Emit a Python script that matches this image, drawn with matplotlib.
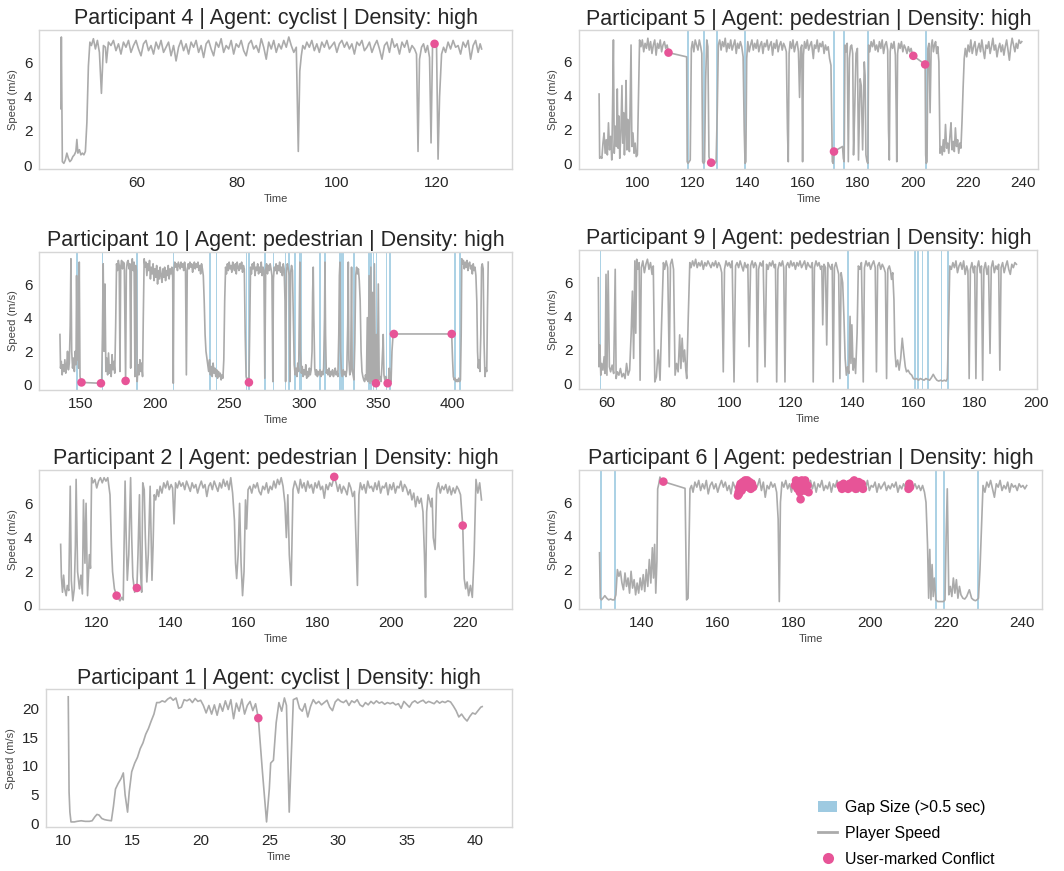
import numpy as np
import matplotlib
matplotlib.use("Agg")
import matplotlib.pyplot as plt
from matplotlib.patches import Patch
from matplotlib.lines import Line2D

plt.rcParams['font.family'] = ['Liberation Sans', 'DejaVu Sans']

# ---------------- Participant 4 (cyclist) ----------------
p4_time = [
    44.9, 45.0, 45.2, 45.5, 45.8, 46.1, 46.4, 46.7, 47.0, 47.3,
    47.6, 47.9, 48.1, 48.3, 48.6, 48.9, 49.2, 49.5, 49.8, 50.1,
    50.4, 50.7, 51.0, 51.4, 51.8, 52.2, 52.6, 53.0, 53.4, 53.8,
    54.0, 54.4, 54.9, 55.4, 55.9, 56.4, 56.9, 57.4, 57.9, 58.4,
    58.9, 59.4, 59.9, 60.4, 60.9, 61.4, 61.9, 62.4, 62.9, 63.4,
    63.9, 64.4, 64.9, 65.4, 65.9, 66.4, 66.9, 67.4, 67.9, 68.4,
    68.9, 69.4, 69.9, 70.4, 70.9, 71.4, 71.9, 72.4, 72.9, 73.4,
    73.9, 74.4, 74.9, 75.4, 75.9, 76.4, 76.9, 77.4, 77.9, 78.4,
    78.9, 79.4, 79.9, 80.4, 80.9, 81.4, 81.9, 82.4, 82.9, 83.4,
    83.9, 84.4, 84.9, 85.4, 85.9, 86.4, 86.9, 87.4, 87.9, 88.4,
    88.9, 89.4, 89.9, 90.4, 90.9, 91.4, 91.9, 92.3, 92.6, 92.9,
    93.2, 93.6, 94.0, 94.5, 95.0, 95.5, 96.0, 96.5, 97.0, 97.5,
    98.0, 98.5, 99.0, 99.5, 100.0, 100.5, 101.0, 101.5, 102.0, 102.5,
    103.0, 103.5, 104.0, 104.5, 105.0, 105.5, 106.0, 106.5, 107.0, 107.5,
    108.0, 108.5, 109.0, 109.5, 110.0, 110.5, 111.0, 111.5, 112.0, 112.5,
    113.0, 113.5, 114.0, 114.5, 115.0, 115.5, 115.9, 116.2, 116.5, 116.9,
    117.3, 117.7, 118.1, 118.5, 118.8, 119.1, 119.5, 119.9, 120.2, 120.5,
    120.9, 121.3, 121.7, 122.2, 122.7, 123.2, 123.7, 124.2, 124.7, 125.2,
    125.7, 126.2, 126.7, 127.2, 127.7, 128.2, 128.6, 128.9,
]
p4_speed = [
    3.3, 7.5, 0.2, 0.1, 0.3, 0.7, 0.4, 0.2, 0.3, 0.5,
    0.6, 0.8, 1.5, 0.7, 0.9, 0.6, 0.7, 0.6, 0.8, 2.5,
    5.8, 7.2, 7.0, 7.4, 6.8, 7.3, 6.6, 4.2, 7.0, 6.9,
    6.0, 7.2, 7.0, 7.3, 6.7, 7.1, 6.5, 7.2, 6.9, 7.3,
    6.6, 7.0, 7.3, 6.8, 6.4, 7.1, 7.3, 6.7, 7.0, 6.5,
    7.2, 6.8, 7.3, 6.6, 6.9, 7.2, 6.4, 7.0, 6.1, 6.9,
    7.3, 6.7, 7.1, 6.5, 7.2, 6.9, 7.3, 6.6, 7.0, 6.3,
    7.1, 7.3, 6.8, 6.4, 7.2, 6.9, 7.4, 6.6, 7.0, 6.8,
    7.3, 6.5, 7.1, 6.9, 7.3, 6.7, 6.4, 7.1, 7.3, 6.8,
    7.0, 6.6, 7.4, 6.9, 6.2, 7.2, 6.8, 7.3, 6.6, 7.1,
    6.8, 7.3, 6.9, 7.5, 7.0, 6.6, 6.9, 0.8, 5.5, 6.4,
    7.0, 6.8, 7.2, 6.9, 7.3, 6.7, 7.1, 6.6, 7.2, 6.9,
    7.3, 6.8, 7.0, 7.2, 6.6, 7.1, 7.3, 6.9, 7.2, 6.8,
    7.1, 6.5, 7.2, 7.0, 7.3, 6.7, 6.9, 7.2, 6.6, 7.0,
    7.3, 6.8, 6.2, 7.0, 7.2, 6.6, 7.4, 6.9, 7.1, 6.5,
    7.2, 6.9, 7.3, 6.6, 7.0, 6.8, 6.5, 0.8, 6.2, 6.9,
    7.1, 6.6, 7.0, 6.3, 1.3, 7.0, 7.1, 6.9, 0.35, 4.0,
    6.5, 6.9, 6.6, 7.2, 6.8, 7.3, 6.9, 7.0, 6.5, 7.2,
    6.9, 7.3, 6.2, 7.0, 7.3, 6.6, 7.1, 6.8,
]
p4_conf_time = [119.5]
p4_conf_speed = [7.1]
p4_gap_start = []
p4_gap_end = []

# ---------------- Participant 5 (pedestrian) ----------------
p5_time = [
    86.1, 86.3, 86.7, 87.1, 87.5, 87.9, 88.3, 88.7, 89.1, 89.5,
    89.9, 90.3, 90.7, 91.0, 91.3, 91.6, 92.0, 92.4, 92.7, 93.0,
    93.3, 93.6, 94.0, 94.4, 94.7, 95.0, 95.3, 95.6, 95.9, 96.2,
    96.5, 96.8, 97.1, 97.4, 97.7, 98.0, 98.4, 98.8, 99.2, 99.6,
    100.0, 100.4, 100.8, 101.3, 101.8, 102.3, 102.8, 103.3, 103.8, 104.3,
    104.8, 105.3, 105.8, 106.3, 106.8, 107.3, 107.8, 108.3, 108.8, 109.3,
    109.8, 110.3, 110.8, 111.3, 117.9, 118.1, 118.4, 118.8, 119.2, 119.6,
    120.0, 120.5, 121.0, 121.5, 122.0, 122.5, 123.0, 123.4, 123.7, 124.0,
    124.4, 124.8, 125.2, 125.6, 126.0, 126.4, 126.8, 127.4, 128.0, 128.6,
    129.0, 129.4, 129.9, 130.4, 130.9, 131.4, 131.9, 132.4, 132.9, 133.4,
    133.9, 134.4, 134.9, 135.4, 135.9, 136.4, 136.9, 137.4, 137.9, 138.4,
    138.8, 139.1, 139.4, 139.7, 140.1, 140.6, 141.1, 141.6, 142.1, 142.6,
    143.1, 143.6, 144.1, 144.6, 145.1, 145.6, 146.1, 146.6, 147.1, 147.6,
    148.1, 148.6, 149.1, 149.6, 150.1, 150.6, 151.1, 151.6, 152.1, 152.6,
    153.1, 153.6, 154.1, 154.5, 154.8, 155.1, 155.5, 156.0, 156.5, 157.0,
    157.5, 158.0, 158.5, 158.9, 159.3, 159.7, 160.0, 160.3, 160.7, 161.2,
    161.7, 162.2, 162.7, 163.2, 163.6, 163.9, 164.3, 164.8, 165.3, 165.8,
    166.3, 166.8, 167.3, 167.8, 168.3, 168.8, 169.3, 169.8, 170.3, 170.8,
    171.1, 171.4, 174.5, 174.8, 175.1, 175.4, 175.8, 176.2, 176.6, 177.0,
    177.4, 177.8, 178.2, 178.5, 178.9, 179.4, 179.9, 180.3, 180.6, 180.9,
    181.3, 181.8, 182.1, 182.4, 182.7, 183.0, 183.4, 183.7, 184.0, 184.4,
    184.9, 185.4, 185.9, 186.4, 186.9, 187.4, 187.9, 188.4, 188.9, 189.4,
    189.9, 190.4, 190.9, 191.2, 191.5, 191.8, 192.2, 192.7, 193.2, 193.7,
    194.0, 194.2, 194.5, 194.9, 195.4, 195.9, 196.4, 196.9, 197.4, 197.9,
    198.4, 198.9, 199.4, 199.8, 200.2, 204.5, 204.7, 204.9, 205.2, 205.5,
    205.9, 206.3, 206.7, 207.1, 207.5, 207.9, 208.3, 208.7, 209.1, 209.5,
    209.9, 210.3, 210.7, 211.1, 211.5, 211.9, 212.3, 212.7, 213.1, 213.5,
    213.9, 214.3, 214.7, 215.1, 215.5, 215.9, 216.3, 216.7, 217.1, 217.5,
    217.9, 218.3, 218.7, 219.1, 219.6, 220.1, 220.6, 221.1, 221.6, 222.1,
    222.6, 223.1, 223.6, 224.1, 224.6, 225.1, 225.6, 226.1, 226.6, 227.1,
    227.6, 228.1, 228.6, 229.1, 229.6, 230.1, 230.6, 231.1, 231.6, 232.1,
    232.6, 233.1, 233.6, 234.1, 234.6, 235.1, 235.6, 236.1, 236.6, 237.1,
    237.6, 238.1, 238.6, 239.1, 239.6,
]
p5_speed = [
    4.1, 0.3, 0.4, 0.3, 1.2, 1.8, 0.6, 1.4, 0.5, 2.4,
    0.8, 1.6, 0.2, 3.5, 7.3, 0.6, 2.2, 1.0, 4.4, 0.9,
    2.8, 0.3, 1.8, 4.6, 1.2, 3.0, 0.5, 2.1, 4.9, 0.8,
    2.6, 1.5, 0.7, 3.8, 7.0, 1.0, 1.8, 0.6, 1.2, 0.4,
    0.5, 4.0, 7.3, 6.9, 7.3, 6.6, 7.1, 6.8, 7.4, 6.7,
    7.2, 6.5, 7.0, 7.3, 6.4, 7.1, 6.8, 7.3, 6.6, 7.0,
    7.2, 6.8, 7.0, 6.55, 6.3, 0.1, 0.0, 0.1, 0.2, 6.8,
    7.2, 6.6, 7.3, 7.0, 6.7, 7.3, 6.9, 6.5, 0.1, 0.0,
    0.1, 5.0, 7.3, 6.9, 0.4, 0.1, 0.04, 0.1, 0.0, 0.1,
    3.0, 7.0, 7.3, 6.7, 7.2, 6.9, 7.4, 6.6, 7.1, 6.8,
    7.3, 6.7, 7.0, 7.3, 6.5, 7.1, 6.8, 7.2, 6.9, 6.3,
    2.0, 0.0, 0.1, 6.2, 7.2, 6.6, 7.0, 7.3, 6.7, 7.1,
    6.8, 7.3, 6.6, 7.0, 7.2, 6.5, 7.1, 6.9, 7.3, 6.7,
    7.0, 7.2, 6.4, 7.1, 6.8, 7.3, 6.6, 7.0, 7.2, 6.7,
    7.1, 6.9, 6.6, 2.0, 0.1, 6.5, 7.2, 6.8, 7.3, 6.6,
    7.0, 7.2, 6.6, 3.9, 6.8, 7.0, 0.1, 6.4, 7.2, 6.8,
    7.3, 6.7, 7.0, 7.2, 6.6, 6.2, 7.0, 6.8, 7.3, 6.6,
    7.1, 6.9, 7.2, 6.5, 7.0, 6.7, 6.9, 6.2, 5.8, 0.1,
    0.0, 0.7, 1.0, 0.3, 0.1, 7.0, 6.6, 7.1, 0.1, 6.2,
    6.9, 7.0, 6.5, 0.5, 3.0, 6.5, 6.8, 0.2, 2.5, 5.0,
    4.6, 0.8, 3.5, 6.0, 5.2, 0.5, 0.1, 0.0, 7.0, 6.6,
    7.2, 6.9, 7.3, 6.7, 7.0, 6.6, 7.2, 6.8, 7.3, 6.5,
    7.0, 7.2, 6.7, 2.0, 0.2, 6.6, 7.1, 6.8, 7.2, 6.4,
    3.0, 0.1, 6.5, 7.1, 6.8, 7.2, 6.6, 7.0, 6.8, 6.5,
    6.9, 6.6, 6.8, 6.5, 6.36, 5.85, 0.5, 0.0, 0.1, 6.8,
    7.1, 3.0, 6.9, 7.3, 6.6, 7.0, 7.2, 6.5, 6.9, 6.0,
    0.6, 1.0, 0.5, 1.4, 0.7, 2.3, 0.9, 1.2, 0.6, 1.6,
    2.4, 0.8, 1.3, 0.7, 2.1, 1.0, 1.4, 0.6, 1.2, 0.9,
    2.5, 4.5, 6.2, 6.8, 6.3, 7.0, 6.6, 7.3, 6.5, 6.9,
    7.2, 6.4, 6.8, 7.1, 6.6, 7.3, 6.7, 6.2, 7.0, 6.8,
    7.2, 6.5, 6.9, 7.4, 6.7, 7.0, 6.3, 6.8, 7.1, 6.6,
    7.0, 6.4, 6.9, 7.3, 6.7, 6.1, 6.9, 7.4, 7.0, 6.6,
    7.1, 6.8, 7.3, 7.1, 7.2,
]
p5_conf_time = [111.3, 126.8, 171.4, 200.2, 204.5]
p5_conf_speed = [6.55, 0.04, 0.7, 6.36, 5.85]
p5_gap_start = [118.0, 123.9, 128.4, 138.9, 171.0, 174.8, 183.3, 204.4]
p5_gap_end = [118.7, 124.6, 129.1, 139.6, 171.7, 175.5, 184.0, 205.1]

# ---------------- Participant 10 (pedestrian) ----------------
p10_time = [
    135.9, 136.3, 136.8, 137.4, 138.0, 138.6, 139.2, 139.8, 140.4, 141.0,
    141.6, 142.2, 142.8, 143.3, 143.8, 144.4, 145.0, 145.6, 146.2, 146.7,
    147.1, 147.6, 148.0, 148.5, 148.9, 149.4, 150.0, 150.4, 163.5, 164.0,
    164.5, 165.0, 165.6, 166.2, 166.8, 167.4, 168.0, 168.6, 169.2, 169.8,
    170.4, 171.0, 171.6, 172.2, 172.8, 173.4, 174.0, 174.6, 175.2, 175.8,
    176.3, 176.8, 177.4, 178.0, 178.6, 179.2, 179.7, 180.1, 180.6, 181.2,
    181.8, 182.4, 183.0, 183.5, 184.0, 184.6, 185.2, 185.8, 186.4, 186.9,
    187.4, 187.9, 188.5, 189.1, 189.7, 190.3, 190.9, 191.5, 192.0, 192.6,
    193.2, 193.8, 194.4, 195.0, 195.6, 196.2, 196.8, 197.4, 198.0, 198.6,
    199.2, 199.8, 200.4, 201.0, 201.6, 202.2, 202.8, 203.4, 204.0, 204.6,
    205.2, 205.8, 206.4, 207.0, 207.6, 208.2, 208.8, 209.4, 210.0, 210.6,
    211.2, 211.8, 212.2, 212.6, 213.2, 213.8, 214.4, 215.0, 215.6, 216.2,
    216.8, 217.4, 218.0, 218.6, 219.2, 219.8, 220.4, 221.0, 221.6, 222.2,
    222.8, 223.4, 224.0, 224.6, 225.2, 225.8, 226.4, 227.0, 227.6, 228.2,
    228.8, 229.4, 230.0, 230.6, 231.2, 231.8, 232.4, 233.0, 233.6, 234.2,
    234.8, 235.4, 236.0, 236.6, 237.2, 237.8, 238.4, 239.0, 239.6, 240.2,
    240.8, 241.4, 242.0, 242.6, 243.2, 243.8, 244.4, 245.0, 245.6, 246.2,
    246.8, 247.4, 248.0, 248.6, 249.2, 249.8, 250.4, 251.0, 251.6, 252.2,
    252.8, 253.4, 254.0, 254.6, 255.2, 255.8, 256.4, 257.0, 257.6, 258.2,
    258.8, 259.4, 260.0, 260.6, 261.2, 261.8, 262.4, 263.1, 263.6, 264.2,
    264.8, 265.4, 266.0, 266.6, 267.2, 267.8, 268.4, 269.0, 269.6, 270.2,
    270.8, 271.4, 272.0, 272.6, 273.2, 273.8, 274.4, 275.0, 275.6, 276.2,
    276.8, 277.4, 278.0, 278.6, 279.2, 279.6, 280.2, 280.8, 281.4, 282.0,
    282.6, 283.2, 283.8, 284.4, 285.0, 285.6, 286.2, 286.8, 287.4, 287.8,
    288.4, 289.0, 289.6, 290.2, 290.7, 291.2, 291.8, 292.4, 293.0, 293.6,
    294.2, 294.8, 295.4, 296.0, 296.6, 297.0, 297.4, 297.8, 298.4, 299.0,
    299.6, 300.2, 300.8, 301.4, 302.0, 302.6, 303.2, 303.8, 304.4, 305.0,
    305.6, 306.0, 306.4, 306.8, 307.4, 308.0, 308.6, 309.2, 309.8, 310.4,
    311.0, 311.6, 312.2, 312.8, 313.4, 314.0, 314.3, 314.7, 315.2, 315.8,
    316.4, 317.0, 317.6, 318.2, 318.8, 319.4, 320.0, 320.6, 321.2, 321.8,
    322.4, 323.0, 323.6, 324.0, 324.4, 324.8, 325.4, 326.0, 326.6, 327.2,
    327.8, 328.4, 329.0, 329.6, 330.0, 330.4, 331.0, 331.6, 332.2, 332.6,
    333.2, 333.8, 334.4, 335.0, 335.6, 336.2, 336.8, 337.4, 338.0, 338.6,
    339.2, 339.8, 340.4, 341.0, 341.6, 342.2, 342.8, 343.4, 344.0, 344.6,
    345.2, 345.8, 346.4, 347.0, 347.6, 348.2, 348.6, 349.0, 349.6, 350.2,
    350.8, 351.4, 352.0, 352.6, 353.2, 353.5, 354.0, 354.6, 355.2, 355.8,
    356.5, 357.0, 357.6, 358.2, 358.8, 359.4, 360.0, 360.7, 399.6, 400.2,
    400.7, 401.3, 401.9, 402.5, 403.1, 403.7, 404.3, 404.9, 405.5, 406.0,
    406.4, 406.9, 407.5, 408.1, 408.7, 409.3, 409.9, 410.5, 411.1, 411.7,
    412.3, 412.9, 413.5, 414.1, 414.7, 415.3, 415.9, 416.5, 417.0, 417.5,
    418.0, 418.6, 419.2, 419.7, 420.2, 420.8, 421.4, 422.0, 422.6, 423.2,
    423.7, 424.2,
]
p10_speed = [
    3.0, 1.0, 1.4, 0.6, 1.2, 0.8, 1.5, 0.7, 1.1, 2.0,
    0.9, 1.3, 3.5, 7.5, 2.0, 1.0, 1.6, 0.8, 2.0, 1.2,
    6.5, 1.5, 3.0, 1.0, 7.3, 0.5, 0.2, 0.15, 0.1, 0.2,
    3.0, 7.2, 2.0, 6.0, 0.8, 1.6, 0.6, 1.9, 0.7, 1.2,
    0.5, 1.8, 0.9, 1.4, 0.7, 3.5, 7.2, 6.8, 7.4, 7.1,
    0.8, 7.0, 7.4, 6.9, 7.3, 7.2, 3.0, 0.24, 6.8, 7.3,
    7.4, 6.9, 7.2, 1.0, 7.0, 7.5, 6.8, 7.3, 0.5, 7.1,
    6.8, 0.2, 1.2, 0.6, 1.5, 0.8, 1.3, 0.5, 4.0, 7.5,
    7.0, 7.3, 6.5, 7.2, 6.8, 7.4, 6.3, 7.0, 6.6, 7.2,
    6.2, 6.9, 6.4, 7.1, 6.0, 6.8, 6.3, 7.0, 6.5, 6.1,
    6.9, 6.4, 7.0, 6.2, 6.8, 6.5, 7.1, 6.3, 6.9, 6.6,
    7.0, 6.4, 0.1, 6.8, 7.3, 7.0, 7.2, 6.8, 7.3, 7.1,
    6.9, 7.3, 7.0, 7.2, 6.8, 7.3, 6.9, 0.6, 6.8, 7.2,
    6.9, 7.3, 7.0, 7.2, 6.7, 7.1, 7.3, 6.9, 7.2, 7.0,
    7.3, 6.8, 7.1, 6.6, 7.2, 6.9, 6.5, 5.0, 3.0, 2.0,
    1.6, 1.2, 0.8, 1.5, 0.6, 1.1, 0.5, 1.3, 0.7, 1.0,
    0.5, 0.9, 0.4, 0.8, 0.5, 0.7, 0.3, 0.6, 0.4, 1.5,
    5.0, 7.0, 6.6, 7.2, 6.8, 7.3, 6.9, 7.1, 6.7, 7.3,
    7.0, 6.8, 7.2, 6.6, 7.3, 7.0, 6.8, 7.2, 6.9, 7.3,
    6.7, 7.1, 6.9, 3.0, 0.5, 0.3, 0.4, 0.15, 3.0, 7.0,
    6.6, 7.2, 6.9, 7.3, 6.5, 7.0, 6.8, 7.2, 6.6, 7.0,
    6.7, 7.3, 6.5, 7.0, 6.8, 0.4, 6.9, 7.2, 6.6, 7.1,
    6.8, 7.2, 6.9, 6.5, 0.2, 6.3, 7.0, 6.8, 7.2, 6.6,
    7.1, 6.8, 7.3, 6.7, 7.0, 6.5, 7.2, 6.9, 5.0, 0.2,
    6.8, 7.2, 6.9, 6.5, 0.2, 6.7, 7.1, 6.8, 4.0, 1.2,
    0.6, 1.0, 0.5, 1.3, 0.8, 4.0, 7.3, 2.0, 0.7, 1.1,
    0.5, 0.9, 0.6, 1.2, 0.4, 0.8, 0.5, 1.0, 0.6, 0.9,
    2.0, 5.5, 7.0, 4.0, 1.0, 0.6, 0.9, 0.5, 0.8, 0.6,
    0.9, 0.5, 0.8, 0.6, 1.0, 4.0, 7.3, 3.0, 0.7, 0.9,
    0.6, 1.0, 0.5, 0.8, 0.6, 0.9, 0.5, 0.7, 1.0, 0.6,
    0.8, 0.5, 3.0, 6.5, 7.3, 2.0, 0.7, 0.5, 0.9, 0.6,
    0.8, 0.5, 0.9, 3.5, 7.3, 1.5, 0.6, 0.8, 7.0, 1.0,
    0.6, 0.3, 2.5, 6.5, 7.0, 6.6, 6.9, 6.2, 5.0, 2.0,
    0.8, 0.5, 0.3, 0.2, 0.6, 0.3, 4.0, 0.2, 6.5, 0.1,
    7.0, 0.2, 5.5, 0.3, 7.2, 0.4, 0.1, 3.0, 0.2, 6.0,
    0.3, 0.5, 0.2, 1.0, 2.2, 3.0, 0.6, 0.3, 0.5, 0.2,
    0.1, 0.3, 1.0, 0.4, 0.2, 2.0, 2.8, 3.03, 3.03, 1.5,
    0.5, 0.3, 0.4, 0.2, 0.3, 0.2, 0.4, 0.2, 0.3, 3.0,
    7.5, 7.2, 7.4, 6.9, 7.3, 7.0, 7.4, 6.8, 7.2, 7.3,
    6.9, 7.1, 6.6, 7.2, 6.8, 7.0, 6.5, 5.0, 2.0, 1.0,
    1.5, 0.8, 3.0, 7.0, 7.2, 6.9, 2.5, 0.5, 1.0, 0.8,
    4.5, 7.3,
]
p10_conf_time = [150.4, 163.5, 180.1, 263.1, 348.6, 356.5, 360.7, 399.6]
p10_conf_speed = [0.15, 0.1, 0.24, 0.15, 0.1, 0.1, 3.03, 3.03]
p10_gap_start = [147.0, 163.9, 187.4, 211.7, 236.4, 240.8, 261.0, 262.8, 273.4, 279.0,
                 287.3, 289.5, 293.5, 296.9, 298.1, 310.4, 313.8, 323.9, 325.0, 326.1,
                 333.3, 343.4, 344.9, 346.3, 347.8, 348.8, 349.7, 355.3, 357.5, 401.3, 404.7]
p10_gap_end = [148.0, 164.9, 188.4, 212.7, 237.4, 241.8, 262.0, 263.8, 274.4, 280.0,
               288.3, 290.5, 294.5, 297.9, 299.1, 311.4, 314.8, 324.9, 326.0, 327.1,
               334.3, 344.6, 346.0, 347.4, 348.3, 349.3, 350.2, 356.3, 358.5, 402.3, 405.7]

# ---------------- Participant 9 (pedestrian) ----------------
p9_time = [
    57.3, 57.5, 57.8, 58.1, 58.4, 58.8, 59.2, 59.5, 59.8, 60.1,
    60.5, 60.9, 61.3, 61.8, 62.3, 62.8, 63.1, 63.5, 64.0, 64.5,
    65.0, 65.5, 66.0, 66.5, 67.0, 67.5, 68.0, 68.4, 68.8, 69.2,
    69.5, 69.8, 70.2, 70.6, 70.9, 71.3, 71.8, 72.3, 72.8, 73.3,
    73.8, 74.3, 74.8, 75.2, 75.7, 76.2, 76.8, 77.4, 77.9, 78.5,
    78.9, 79.4, 79.9, 80.4, 80.8, 81.3, 81.8, 82.3, 82.8, 83.3,
    83.8, 84.2, 84.6, 85.0, 85.4, 85.8, 86.1, 86.6, 87.1, 87.5,
    88.0, 88.5, 89.0, 89.5, 90.0, 90.5, 91.0, 91.5, 92.0, 92.5,
    93.0, 93.5, 94.0, 94.5, 95.0, 95.5, 96.0, 96.5, 97.0, 97.5,
    98.0, 98.4, 98.9, 99.4, 99.9, 100.4, 100.9, 101.5, 102.0, 102.5,
    103.0, 103.5, 104.0, 104.5, 105.0, 105.5, 106.0, 106.4, 106.9, 107.4,
    107.9, 108.4, 108.8, 109.1, 109.5, 110.0, 110.5, 111.0, 111.6, 112.1,
    112.6, 113.1, 113.6, 114.1, 114.6, 115.0, 115.4, 115.8, 116.3, 116.8,
    117.3, 117.7, 118.1, 118.5, 119.0, 119.5, 120.0, 120.5, 121.0, 121.5,
    122.0, 122.5, 123.0, 123.5, 124.0, 124.5, 125.0, 125.5, 126.0, 126.5,
    127.0, 127.3, 127.7, 128.2, 128.7, 129.2, 129.7, 130.1, 130.4, 130.8,
    131.3, 131.7, 132.1, 132.6, 133.1, 133.5, 133.8, 134.2, 134.7, 135.2,
    135.6, 136.0, 136.4, 136.9, 137.3, 137.7, 138.1, 138.5, 138.9, 139.3,
    139.6, 139.9, 140.3, 140.7, 141.1, 141.6, 142.0, 142.5, 143.0, 143.6,
    144.0, 144.5, 145.0, 145.5, 146.0, 146.5, 147.0, 147.5, 147.9, 148.3,
    148.8, 149.3, 149.8, 150.3, 150.8, 151.2, 151.6, 152.1, 152.5, 152.8,
    153.2, 153.6, 153.9, 154.3, 154.8, 155.3, 155.8, 156.3, 156.8, 157.3,
    157.7, 158.2, 158.8, 159.4, 159.9, 160.4, 161.0, 161.6, 162.2, 162.8,
    163.4, 164.0, 164.6, 165.2, 165.8, 166.4, 167.0, 167.6, 168.2, 168.8,
    169.4, 170.0, 170.6, 171.0, 171.4, 171.8, 172.3, 172.8, 173.3, 173.8,
    174.3, 174.8, 175.3, 175.8, 176.3, 176.8, 177.3, 177.7, 178.1, 178.5,
    179.0, 179.5, 179.9, 180.3, 180.7, 181.2, 181.7, 182.1, 182.5, 182.9,
    183.4, 183.9, 184.4, 184.9, 185.3, 185.8, 186.3, 186.8, 187.3, 187.7,
    188.1, 188.5, 189.0, 189.5, 190.0, 190.5, 191.0, 191.5, 192.0, 192.5,
    193.0, 193.5,
]
p9_speed = [
    6.3, 1.0, 2.3, 0.5, 1.2, 0.8, 1.6, 0.6, 6.5, 0.5,
    6.7, 1.0, 0.7, 1.1, 0.6, 6.8, 0.3, 0.7, 0.5, 0.9,
    0.4, 0.6, 0.3, 1.2, 0.5, 0.8, 3.0, 5.5, 1.5, 7.3,
    3.0, 7.4, 6.8, 7.2, 0.2, 6.9, 7.3, 6.6, 7.1, 7.4,
    6.8, 7.2, 6.5, 7.0, 0.1, 0.4, 2.0, 0.2, 3.5, 7.2,
    6.8, 7.3, 6.9, 1.0, 7.1, 7.4, 6.8, 0.5, 1.2, 0.7,
    2.9, 0.9, 2.7, 1.3, 2.0, 0.8, 0.3, 4.0, 7.2, 6.9,
    7.3, 7.0, 7.4, 6.9, 7.2, 7.0, 7.3, 6.8, 7.2, 7.0,
    7.3, 7.1, 6.9, 7.2, 7.0, 7.3, 6.9, 7.2, 7.0, 6.6,
    0.7, 6.8, 7.3, 7.0, 7.2, 6.9, 7.3, 0.1, 7.0, 7.2,
    6.9, 7.3, 7.0, 6.7, 7.2, 6.9, 7.1, 2.2, 7.0, 7.3,
    6.9, 7.2, 7.0, 0.1, 6.8, 7.2, 7.0, 7.3, 1.0, 7.1,
    6.8, 7.2, 7.0, 7.3, 6.9, 7.1, 0.1, 6.8, 7.2, 7.0,
    7.3, 6.9, 0.1, 7.0, 7.2, 6.9, 7.3, 7.0, 7.2, 6.8,
    7.2, 7.0, 7.3, 6.9, 7.1, 7.3, 6.8, 7.2, 7.0, 6.9,
    7.2, 0.1, 6.9, 7.3, 7.0, 7.2, 6.8, 7.0, 3.5, 7.1,
    6.9, 2.3, 7.2, 7.0, 6.8, 7.1, 0.1, 6.9, 7.2, 6.8,
    6.5, 0.3, 6.6, 6.0, 4.0, 1.5, 0.5, 1.0, 0.6, 4.0,
    1.2, 3.5, 0.8, 1.5, 0.6, 3.0, 7.0, 6.8, 7.2, 0.1,
    6.9, 7.3, 7.0, 7.2, 6.8, 7.1, 7.3, 6.9, 0.7, 7.0,
    7.2, 6.8, 7.1, 6.9, 6.6, 0.3, 6.8, 7.0, 6.7, 6.2,
    6.6, 5.0, 2.0, 1.0, 1.4, 0.8, 1.5, 2.7, 1.8, 1.0,
    0.7, 0.8, 0.6, 0.5, 0.3, 0.25, 0.3, 0.2, 0.3, 0.25,
    0.2, 0.3, 0.25, 0.2, 0.35, 0.55, 0.35, 0.2, 0.15, 0.2,
    0.15, 0.2, 0.15, 0.3, 3.5, 7.0, 6.8, 7.2, 6.9, 7.3,
    6.6, 7.0, 7.2, 6.8, 7.3, 6.5, 7.0, 6.7, 0.3, 6.8,
    7.2, 6.6, 7.0, 0.3, 6.9, 7.3, 6.6, 7.0, 0.2, 6.8,
    7.2, 6.5, 7.0, 1.8, 6.9, 7.3, 6.6, 7.0, 6.8, 7.1,
    0.8, 6.9, 7.2, 6.6, 7.0, 7.3, 6.8, 6.5, 7.1, 6.9,
    7.2, 7.1,
]
p9_conf_time = []
p9_conf_speed = []
p9_gap_start = [57.7, 138.4, 160.1, 161.0, 162.6, 164.3, 168.8, 171.0]
p9_gap_end = [58.3, 139.0, 160.7, 161.6, 163.2, 164.9, 169.4, 171.6]

# ---------------- Participant 2 (pedestrian) ----------------
p2_time = [
    110.2, 110.4, 110.7, 111.0, 111.3, 111.7, 112.0, 112.4, 112.8, 113.1,
    113.5, 113.9, 114.2, 114.4, 114.8, 115.3, 115.7, 116.1, 116.4, 116.8,
    117.1, 117.5, 118.0, 118.3, 118.6, 119.0, 119.5, 120.0, 120.5, 121.0,
    121.5, 122.0, 122.5, 123.0, 123.6, 124.0, 124.3, 124.8, 125.4, 125.9,
    126.3, 126.8, 127.2, 127.7, 128.0, 128.3, 128.7, 129.2, 129.5, 129.8,
    130.3, 130.9, 131.2, 131.6, 131.9, 132.2, 132.5, 132.9, 133.2, 133.6,
    134.0, 134.5, 135.0, 135.3, 135.6, 136.0, 136.4, 136.8, 137.2, 137.7,
    138.2, 138.7, 139.2, 139.7, 140.2, 140.6, 141.0, 141.4, 141.9, 142.4,
    142.9, 143.4, 143.9, 144.4, 144.9, 145.4, 145.9, 146.4, 146.9, 147.4,
    147.9, 148.4, 148.9, 149.4, 149.9, 150.4, 150.9, 151.4, 151.9, 152.4,
    152.9, 153.4, 153.9, 154.4, 154.9, 155.4, 155.9, 156.4, 156.9, 157.4,
    157.7, 158.0, 158.4, 158.8, 159.2, 159.6, 160.0, 160.4, 160.7, 161.1,
    161.6, 162.1, 162.6, 163.1, 163.6, 164.1, 164.6, 165.1, 165.6, 166.1,
    166.6, 167.1, 167.6, 168.1, 168.6, 169.1, 169.6, 170.1, 170.6, 171.1,
    171.5, 171.9, 172.3, 172.8, 173.3, 173.8, 174.3, 174.8, 175.3, 175.8,
    176.3, 176.8, 177.3, 177.8, 178.3, 178.8, 179.3, 179.8, 180.3, 180.8,
    181.3, 181.8, 182.3, 182.8, 183.3, 183.8, 184.5, 185.0, 185.5, 186.0,
    186.5, 187.0, 187.5, 188.0, 188.5, 189.0, 189.5, 190.0, 190.4, 190.8,
    191.2, 191.6, 192.1, 192.6, 193.1, 193.6, 194.1, 194.6, 195.1, 195.6,
    196.1, 196.6, 197.1, 197.6, 198.1, 198.6, 199.1, 199.6, 200.1, 200.6,
    201.1, 201.6, 202.1, 202.6, 203.1, 203.6, 204.1, 204.6, 205.1, 205.6,
    206.1, 206.6, 207.1, 207.6, 208.1, 208.6, 209.0, 209.3, 209.6, 210.0,
    210.4, 210.8, 211.1, 211.4, 211.9, 212.3, 212.8, 213.3, 213.8, 214.3,
    214.8, 215.3, 215.8, 216.3, 216.8, 217.3, 217.8, 218.3, 218.8, 219.4,
    219.8, 220.2, 220.6, 221.0, 221.5, 222.0, 222.5, 223.0, 223.5, 224.0,
    224.5,
]
p2_speed = [
    3.6, 1.7, 0.8, 1.8, 1.0, 0.6, 1.2, 0.9, 7.0, 1.5,
    0.3, 1.0, 3.5, 7.4, 2.0, 1.0, 1.8, 0.7, 6.2, 2.5,
    6.0, 0.6, 3.0, 2.2, 7.5, 7.2, 7.4, 6.9, 7.3, 7.5,
    7.2, 7.5, 7.3, 7.5, 6.5, 3.5, 2.0, 1.0, 0.6, 0.45,
    0.3, 0.5, 0.35, 7.3, 4.0, 1.5, 3.0, 7.5, 4.0, 1.7,
    0.8, 1.05, 3.0, 6.5, 2.0, 0.8, 7.2, 6.8, 4.0, 1.4,
    3.0, 7.0, 1.5, 3.5, 6.5, 6.2, 6.8, 6.4, 7.0, 6.6,
    7.2, 6.9, 7.3, 6.8, 7.1, 6.9, 4.8, 7.2, 6.9, 7.3,
    7.0, 7.2, 6.8, 7.3, 7.0, 6.7, 7.2, 6.9, 7.1, 6.6,
    7.0, 7.3, 6.9, 7.1, 6.4, 7.0, 7.2, 6.8, 7.3, 7.0,
    6.7, 7.2, 6.9, 7.4, 7.0, 7.3, 6.8, 7.5, 6.6, 5.0,
    2.5, 1.6, 3.0, 6.0, 2.5, 0.6, 2.0, 6.2, 4.5, 6.8,
    7.0, 6.6, 7.1, 6.9, 7.2, 6.7, 6.5, 7.0, 6.8, 7.2,
    6.6, 7.0, 6.8, 7.3, 6.9, 7.4, 7.1, 7.5, 7.0, 6.0,
    4.0, 6.5, 3.0, 1.2, 6.8, 7.3, 7.0, 6.6, 7.4, 6.9,
    7.2, 6.7, 7.3, 6.9, 7.1, 6.6, 7.2, 6.9, 7.3, 6.8,
    7.0, 6.3, 7.1, 6.8, 7.2, 7.0, 7.55, 7.2, 6.7, 7.1,
    6.6, 7.0, 6.8, 6.5, 7.2, 6.9, 6.4, 6.7, 4.0, 1.2,
    6.5, 7.2, 6.8, 7.1, 6.6, 7.3, 6.9, 7.0, 6.7, 7.2,
    6.8, 7.3, 6.6, 7.0, 6.9, 7.2, 6.5, 7.1, 6.8, 7.2,
    6.6, 7.0, 6.9, 7.3, 6.7, 7.1, 6.9, 6.5, 6.8, 6.2,
    6.6, 5.8, 6.4, 6.0, 6.3, 5.5, 3.0, 0.5, 5.5, 6.5,
    6.2, 5.8, 6.3, 4.0, 3.3, 6.8, 7.2, 6.6, 7.0, 6.8,
    7.1, 6.6, 7.0, 6.5, 6.9, 6.6, 7.0, 6.8, 6.5, 4.7,
    1.6, 1.0, 1.4, 0.6, 1.2, 0.5, 3.0, 7.4, 6.6, 7.2,
    6.2,
]
p2_conf_time = [125.4, 130.9, 184.5, 219.4]
p2_conf_speed = [0.6, 1.05, 7.55, 4.7]
p2_gap_start = []
p2_gap_end = []

# ---------------- Participant 6 (pedestrian) ----------------
p6_time = [
    128.9, 129.1, 129.4, 129.8, 130.3, 130.8, 131.3, 131.8, 132.3, 132.8,
    133.2, 133.6, 134.0, 134.4, 134.8, 135.2, 135.6, 136.0, 136.4, 136.8,
    137.2, 137.6, 138.0, 138.4, 138.8, 139.2, 139.6, 140.0, 140.4, 140.8,
    141.2, 141.6, 142.0, 142.4, 142.8, 143.1, 143.4, 143.7, 144.0, 144.2,
    144.5, 144.8, 145.2, 145.7, 151.4, 151.8, 152.2, 152.7, 153.1, 153.5,
    154.0, 154.5, 155.0, 155.5, 156.0, 156.5, 157.0, 157.5, 158.0, 158.5,
    159.0, 159.5, 160.0, 160.5, 161.0, 161.5, 162.0, 162.5, 163.0, 163.5,
    164.0, 164.5, 165.0, 165.5, 166.0, 166.5, 167.0, 167.5, 168.0, 168.5,
    169.0, 169.5, 170.0, 170.5, 171.0, 171.5, 172.0, 172.5, 173.0, 173.5,
    174.0, 174.5, 175.0, 175.5, 175.9, 176.2, 176.5, 176.9, 177.4, 177.9,
    178.4, 178.9, 179.4, 179.9, 180.4, 180.9, 181.4, 181.9, 182.4, 182.9,
    183.4, 183.9, 184.4, 184.9, 185.4, 185.9, 186.4, 186.9, 187.4, 187.9,
    188.4, 188.9, 189.4, 189.9, 190.4, 190.9, 191.4, 191.9, 192.4, 192.9,
    193.4, 193.9, 194.4, 194.9, 195.4, 195.9, 196.4, 196.9, 197.4, 197.9,
    198.4, 198.9, 199.4, 199.9, 200.4, 200.9, 201.4, 201.9, 202.4, 202.9,
    203.4, 203.9, 204.4, 204.9, 205.4, 205.9, 206.4, 206.9, 207.4, 207.9,
    208.4, 208.9, 209.4, 209.9, 210.4, 210.9, 211.4, 211.9, 212.4, 212.9,
    213.4, 213.9, 214.4, 214.8, 215.2, 215.5, 215.8, 216.1, 216.4, 216.7,
    217.0, 217.4, 217.9, 218.4, 218.9, 219.4, 219.8, 220.1, 220.4, 220.8,
    221.2, 221.6, 222.0, 222.4, 222.8, 223.2, 223.6, 224.0, 224.5, 225.0,
    225.5, 226.2, 226.8, 227.3, 227.8, 228.2, 228.6, 229.0, 229.4, 229.8,
    230.3, 230.8, 231.3, 231.8, 232.3, 232.8, 233.3, 233.8, 234.3, 234.8,
    235.3, 235.8, 236.3, 236.8, 237.3, 237.8, 238.3, 238.8, 239.3, 239.8,
    240.3, 240.8, 241.3,
]
p6_speed = [
    3.0, 0.3, 0.2, 0.3, 0.45, 0.3, 0.2, 0.25, 0.2, 0.2,
    0.5, 2.0, 1.6, 1.9, 1.2, 0.8, 1.8, 1.0, 1.5, 0.6,
    1.9, 0.9, 1.4, 0.5, 1.2, 0.6, 1.5, 0.8, 1.7, 0.7,
    2.0, 1.0, 2.6, 1.2, 3.3, 1.5, 3.5, 0.6, 2.5, 6.8,
    7.1, 7.5, 7.3, 7.23, 6.83, 0.2, 0.3, 6.8, 7.0, 6.6,
    7.2, 6.9, 7.3, 6.7, 7.1, 6.8, 7.3, 6.5, 7.0, 7.2,
    6.8, 7.1, 6.6, 7.0, 7.3, 6.9, 7.2, 6.7, 7.0, 6.5,
    7.2, 6.9, 6.6, 7.1, 6.7, 7.3, 6.9, 7.1, 6.8, 7.2,
    6.9, 7.3, 6.8, 7.0, 7.4, 6.7, 7.2, 6.3, 7.0, 6.8,
    7.2, 6.9, 7.1, 6.6, 5.0, 0.1, 6.0, 7.2, 6.9, 7.3,
    6.8, 7.1, 6.6, 7.2, 6.9, 7.0, 6.7, 7.3, 6.8, 7.1,
    6.6, 7.0, 7.3, 6.8, 7.2, 6.6, 7.1, 6.9, 7.3, 6.7,
    7.0, 6.8, 7.2, 6.6, 7.1, 6.9, 7.3, 6.7, 7.0, 6.8,
    7.2, 6.9, 7.1, 6.7, 7.3, 6.8, 7.0, 6.6, 7.2, 6.9,
    7.1, 6.8, 7.3, 6.7, 7.0, 6.9, 7.2, 6.6, 7.1, 6.8,
    7.0, 7.2, 6.7, 7.0, 6.8, 7.1, 6.9, 7.2, 6.6, 7.0,
    6.8, 7.1, 6.9, 7.2, 6.7, 7.0, 6.9, 7.1, 6.8, 7.0,
    6.7, 7.0, 6.6, 6.0, 3.5, 0.3, 3.2, 0.2, 2.3, 0.4,
    1.5, 0.2, 0.1, 0.1, 0.1, 0.1, 0.2, 4.0, 6.8, 0.5,
    1.0, 0.4, 1.5, 0.6, 1.4, 0.3, 1.0, 0.5, 0.3, 0.25,
    0.4, 0.8, 0.3, 0.2, 0.15, 0.2, 0.3, 2.0, 4.5, 7.0,
    6.6, 7.2, 6.9, 7.3, 6.8, 6.3, 7.1, 6.9, 7.3, 6.7,
    7.0, 6.8, 7.2, 6.6, 7.1, 6.9, 7.0, 6.7, 7.1, 6.9,
    7.0, 6.8, 7.0,
]
p6_conf_time = [
    145.7,
    165.3, 165.5, 165.7, 166.0, 166.3, 166.6, 166.9, 167.2, 167.5, 167.8,
    168.1, 168.4, 168.7, 169.0, 169.3, 165.6, 166.2, 167.0,
    180.3, 180.6, 181.0, 181.3, 181.6, 181.8, 182.1, 182.4, 182.7, 183.0,
    183.3, 183.6, 183.9, 181.2, 182.0, 182.8,
    192.3, 192.7, 193.1, 193.5, 193.9, 194.3, 194.7, 195.1, 195.5, 195.9,
    196.3, 196.7, 197.1, 197.5, 197.9, 198.2, 196.0,
    210.2, 210.4, 210.6,
]
p6_conf_speed = [
    7.23,
    6.4, 6.6, 6.9, 7.1, 6.7, 7.2, 6.9, 7.3, 7.0, 7.3,
    6.9, 7.2, 6.8, 7.1, 6.9, 6.5, 6.8, 7.2,
    7.0, 7.3, 6.8, 7.2, 6.6, 6.18, 7.3, 6.9, 7.1, 7.3,
    6.7, 7.0, 6.6, 7.0, 6.9, 6.7,
    7.0, 6.8, 7.1, 6.9, 7.0, 6.8, 7.1, 6.9, 7.2, 7.3,
    6.8, 7.0, 7.2, 6.9, 7.1, 6.8, 7.0,
    6.8, 7.1, 6.9,
]
p6_gap_start = [129.0, 132.7, 217.1, 219.3, 228.1]
p6_gap_end = [129.6, 133.3, 217.7, 219.9, 228.7]

# ---------------- Participant 1 (cyclist) ----------------
p1_time = [
    10.36, 10.42, 10.48, 10.56, 10.8, 11.0, 11.3, 11.6, 11.9, 12.1,
    12.3, 12.45, 12.6, 12.8, 13.0, 13.2, 13.5, 13.65, 13.8, 14.0,
    14.2, 14.37, 14.5, 14.68, 14.8, 14.98, 15.2, 15.4, 15.6, 15.8,
    16.0, 16.2, 16.4, 16.6, 16.8, 17.0, 17.2, 17.4, 17.6, 17.8,
    18.0, 18.2, 18.4, 18.6, 18.8, 19.0, 19.2, 19.4, 19.6, 19.8,
    20.0, 20.2, 20.4, 20.6, 20.8, 21.0, 21.2, 21.4, 21.6, 21.8,
    22.0, 22.2, 22.4, 22.6, 22.8, 23.0, 23.2, 23.4, 23.6, 23.8,
    24.0, 24.2, 24.5, 24.8, 25.0, 25.1, 25.3, 25.5, 25.7, 25.9,
    26.1, 26.25, 26.45, 26.6, 26.75, 27.0, 27.2, 27.4, 27.6, 27.8,
    28.0, 28.2, 28.4, 28.6, 28.8, 29.0, 29.2, 29.4, 29.6, 29.8,
    30.0, 30.2, 30.4, 30.6, 30.8, 31.0, 31.2, 31.4, 31.6, 31.8,
    32.0, 32.2, 32.4, 32.6, 32.8, 33.0, 33.2, 33.4, 33.6, 33.8,
    34.0, 34.2, 34.4, 34.6, 34.8, 35.0, 35.2, 35.4, 35.6, 35.8,
    36.0, 36.2, 36.4, 36.6, 36.8, 37.0, 37.2, 37.4, 37.6, 37.8,
    38.0, 38.2, 38.4, 38.6, 38.8, 39.0, 39.2, 39.4, 39.6, 39.8,
    40.0, 40.2, 40.4, 40.5,
]
p1_speed = [
    22.0, 5.5, 2.0, 0.3, 0.3, 0.4, 0.5, 0.4, 0.4, 0.5,
    1.2, 1.6, 1.5, 0.9, 0.7, 0.6, 0.5, 3.0, 6.0, 7.0,
    7.8, 8.8, 5.0, 2.0, 5.5, 9.0, 10.5, 11.5, 13.0, 14.0,
    15.5, 16.5, 17.8, 19.0, 21.0, 21.0, 21.3, 21.1, 21.6, 21.9,
    21.4, 21.8, 20.0, 20.2, 21.5, 21.3, 21.6, 21.0, 21.7, 21.2,
    21.4, 20.5, 19.2, 20.5, 19.0, 20.6, 18.8, 20.8, 19.5, 21.3,
    19.8, 21.5, 18.2, 20.9, 19.5, 21.6, 19.0, 20.5, 21.2, 19.6,
    20.8, 18.3, 9.0, 0.3, 6.0, 10.5, 11.0, 17.5, 21.0, 19.5,
    21.8, 20.5, 2.0, 12.0, 21.5, 21.8, 20.0, 19.5, 20.8, 18.5,
    20.3, 21.5, 20.8, 21.2, 20.6, 21.0, 21.4, 20.2, 19.6, 21.1,
    21.6, 21.2, 21.0, 21.4, 20.5, 21.3, 21.0, 21.5, 20.6, 20.3,
    21.0, 20.6, 21.2, 20.8, 21.3, 20.9, 21.1, 20.7, 21.0, 20.8,
    21.0, 20.6, 20.8, 20.0, 21.2, 20.7, 20.2, 21.0, 21.3, 20.9,
    21.2, 21.4, 20.9, 21.2, 21.0, 20.8, 21.3, 20.9, 21.2, 21.0,
    21.3, 21.1, 20.4, 19.6, 18.5, 19.0, 18.3, 17.8, 18.6, 19.2,
    19.0, 19.6, 20.2, 20.3,
]
p1_conf_time = [24.2]
p1_conf_speed = [18.3]
p1_gap_start = []
p1_gap_end = []

# ---------------- styling / layout ----------------
W, H = 1064, 871
LINE_C = '#ababab'
CONF_C = '#e75497'
GAP_C = '#9ecae1'
TXT_C = '#262626'
SPINE_C = '#d6d6d6'


def rect(l, t, r, b):
    return [l / W, 1 - b / H, (r - l) / W, (b - t) / H]


panels = [
    ("Participant 4 | Agent: cyclist | Density: high", p4_time, p4_speed, p4_conf_time, p4_conf_speed,
     p4_gap_start, p4_gap_end, rect(39.3, 30, 511.7, 169), (40.6, 134.9), (-0.23, 7.91), [60, 80, 100, 120], [0, 2, 4, 6]),
    ("Participant 5 | Agent: pedestrian | Density: high", p5_time, p5_speed, p5_conf_time, p5_conf_speed,
     p5_gap_start, p5_gap_end, rect(579, 30.3, 1038.3, 169.3), (78.8, 245.6), (-0.35, 7.87),
     [100, 120, 140, 160, 180, 200, 220, 240], [0, 2, 4, 6]),
    ("Participant 10 | Agent: pedestrian | Density: high", p10_time, p10_speed, p10_conf_time, p10_conf_speed,
     p10_gap_start, p10_gap_end, rect(39.3, 251.7, 511.7, 390), (122.0, 440.0), (-0.30, 7.92),
     [150, 200, 250, 300, 350, 400], [0, 2, 4, 6]),
    ("Participant 9 | Agent: pedestrian | Density: high", p9_time, p9_speed, p9_conf_time, p9_conf_speed,
     p9_gap_start, p9_gap_end, rect(579.3, 250, 1037.3, 389.3), (51.1, 200.3), (-0.34, 7.95),
     [60, 80, 100, 120, 140, 160, 180, 200], [0, 2, 4, 6]),
    ("Participant 2 | Agent: pedestrian | Density: high", p2_time, p2_speed, p2_conf_time, p2_conf_speed,
     p2_gap_start, p2_gap_end, rect(39.3, 470, 511.7, 609), (104.4, 232.7), (-0.18, 7.95),
     [120, 140, 160, 180, 200, 220], [0, 2, 4, 6]),
    ("Participant 6 | Agent: pedestrian | Density: high", p6_time, p6_speed, p6_conf_time, p6_conf_speed,
     p6_gap_start, p6_gap_end, rect(579, 470, 1042.3, 609.3), (123.5, 245.4), (-0.36, 7.92),
     [140, 160, 180, 200, 220, 240], [0, 2, 4, 6]),
    ("Participant 1 | Agent: cyclist | Density: high", p1_time, p1_speed, p1_conf_time, p1_conf_speed,
     p1_gap_start, p1_gap_end, rect(46, 689.3, 511.7, 827), (8.74, 42.65), (-0.58, 23.3),
     [10, 15, 20, 25, 30, 35, 40], [0, 5, 10, 15, 20]),
]

fig = plt.figure(figsize=(W / 100, H / 100), dpi=100)
fig.patch.set_facecolor('white')

for (title, t, s, ct, cs, gs, ge, r, xl, yl, xt, yt) in panels:
    ax = fig.add_axes(r)
    n = min(len(t), len(s))
    for a, b in zip(gs, ge):
        ax.axvspan(a, b, color=GAP_C, alpha=0.85, lw=0, zorder=1)
    ax.plot(t[:n], s[:n], color=LINE_C, lw=1.2, zorder=2)
    m = min(len(ct), len(cs))
    if m:
        ax.scatter(ct[:m], cs[:m], s=38, color=CONF_C, edgecolors='none', zorder=3)
    ax.set_xlim(*xl)
    ax.set_ylim(*yl)
    ax.set_xticks(xt)
    ax.set_yticks(yt)
    ax.tick_params(length=0, labelsize=11, colors=TXT_C, pad=5)
    for sp in ax.spines.values():
        sp.set_color(SPINE_C)
        sp.set_linewidth(1.0)
    ax.set_title(title, fontsize=15.5, color=TXT_C, pad=4)
    ax.set_xlabel('Time', fontsize=8, color='#444444', labelpad=3)
    ax.set_ylabel('Speed (m/s)', fontsize=8, color='#444444', labelpad=4)

handles = [
    Patch(facecolor=GAP_C, edgecolor='none'),
    Line2D([], [], color=LINE_C, lw=2),
    Line2D([], [], marker='o', linestyle='None', markerfacecolor=CONF_C,
           markeredgecolor='none', markersize=8),
]
labels = ['Gap Size (>0.5 sec)', 'Player Speed', 'User-marked Conflict']
fig.legend(handles, labels, loc='upper left', bbox_to_anchor=(818 / W, 1 - 800 / H),
           frameon=False, fontsize=11.4, handlelength=1.2, handletextpad=0.5,
           labelspacing=0.68, borderpad=0, borderaxespad=0)

fig.savefig('out.png', dpi=100, facecolor='white')
